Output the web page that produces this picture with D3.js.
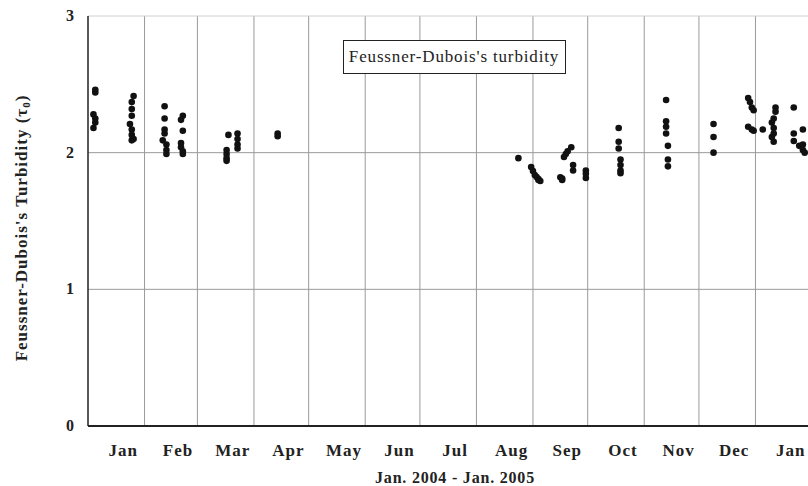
<!DOCTYPE html>
<html>
<head>
<meta charset="utf-8">
<script src="https://cdn.jsdelivr.net/npm/d3@7"></script>
<style>
  html, body { margin: 0; padding: 0; background: #fff; }
  svg { display: block; }
</style>
</head>
<body>
<svg id="chart" width="808" height="486"></svg>
<script>
// Observation dates (Jan 2004 - Jan 2005) and the turbidity measured on each
const obsDates = [
  "2004-01-04","2004-01-04","2004-01-05","2004-01-05","2004-01-05","2004-01-05",
  "2004-01-24","2004-01-25","2004-01-25","2004-01-25","2004-01-25","2004-01-25","2004-01-25","2004-01-26","2004-01-26",
  "2004-02-12","2004-02-12","2004-02-12","2004-02-12","2004-02-11","2004-02-13","2004-02-13","2004-02-13",
  "2004-02-22","2004-02-22","2004-02-22","2004-02-22","2004-02-21","2004-02-21","2004-02-21",
  "2004-03-18","2004-03-17","2004-03-17","2004-03-17","2004-03-17",
  "2004-03-23","2004-03-23","2004-03-23","2004-03-23",
  "2004-04-14","2004-04-14",
  "2004-08-24",
  "2004-08-31","2004-09-01","2004-09-02","2004-09-03","2004-09-04","2004-09-04","2004-09-05",
  "2004-09-16","2004-09-17","2004-09-17",
  "2004-09-18","2004-09-19","2004-09-20","2004-09-22","2004-09-23","2004-09-23",
  "2004-09-30","2004-09-30","2004-09-30",
  "2004-10-18","2004-10-18","2004-10-18","2004-10-19","2004-10-19","2004-10-19","2004-10-19",
  "2004-11-13","2004-11-13","2004-11-13","2004-11-13","2004-11-14","2004-11-14","2004-11-14",
  "2004-12-09","2004-12-09","2004-12-09",
  "2004-12-28","2004-12-28","2004-12-29","2004-12-30","2004-12-30","2004-12-31","2004-12-31",
  "2005-01-05",
  "2005-01-10","2005-01-10","2005-01-11","2005-01-11","2005-01-11","2005-01-11","2005-01-12","2005-01-12",
  "2005-01-22","2005-01-22","2005-01-22",
  "2005-01-25","2005-01-27","2005-01-27","2005-01-27","2005-01-28"
];
const tau = [
  2.28, 2.18, 2.46, 2.44, 2.25, 2.22,
  2.21, 2.37, 2.32, 2.27, 2.17, 2.13, 2.09, 2.415, 2.10,
  2.34, 2.25, 2.17, 2.14, 2.09, 2.06, 2.02, 1.99,
  2.27, 2.16, 2.01, 1.99, 2.24, 2.07, 2.04,
  2.13, 2.02, 1.99, 1.96, 1.94,
  2.14, 2.10, 2.06, 2.03,
  2.14, 2.12,
  1.96,
  1.895, 1.866, 1.837, 1.822, 1.807, 1.80, 1.793,
  1.82, 1.80, 1.81,
  1.968, 1.99, 2.01, 2.04, 1.91, 1.87,
  1.87, 1.845, 1.815,
  2.18, 2.08, 2.03, 1.95, 1.91, 1.87, 1.85,
  2.385, 2.23, 2.19, 2.14, 2.05, 1.95, 1.90,
  2.21, 2.115, 2.00,
  2.40, 2.19, 2.37, 2.17, 2.33, 2.31, 2.16,
  2.17,
  2.22, 2.115, 2.25, 2.18, 2.14, 2.08, 2.33, 2.30,
  2.33, 2.14, 2.085,
  2.05, 2.17, 2.06, 2.02, 2.00
];
const monthLabels = ["Jan","Feb","Mar","Apr","May","Jun","Jul","Aug","Sep","Oct","Nov","Dec","Jan"];
const yTicks = [0, 1, 2, 3];
const yTitle = "Feussner-Dubois's Turbidity (\u03C4";
const xTitle = "Jan. 2004 - Jan. 2005";
const legendText = "Feussner-Dubois's turbidity";

const parse = d3.timeParse("%Y-%m-%d");
const points = obsDates.map((d, i) => ({ date: parse(d), value: tau[i] }));

const svg = d3.select("#chart");
const serif = "'Liberation Serif', 'Times New Roman', serif";

const x = d3.scaleTime()
  .domain([new Date(2004, 0, 1), new Date(2005, 1, 1)])
  .range([88, 812]);
const y = d3.scaleLinear().domain([0, 3]).range([426, 16]);

const monthStarts = d3.timeMonth.range(new Date(2004, 0, 1), new Date(2005, 1, 1));

// vertical month grid
svg.append("g").selectAll("line")
  .data(monthStarts.slice(1))
  .join("line")
  .attr("x1", d => x(d)).attr("x2", d => x(d))
  .attr("y1", y(3)).attr("y2", y(0))
  .attr("stroke", "#9a9a9a").attr("stroke-width", 1);

// horizontal grid
svg.append("g").selectAll("line")
  .data(yTicks.slice(1))
  .join("line")
  .attr("x1", x.range()[0]).attr("x2", x.range()[1])
  .attr("y1", d => y(d)).attr("y2", d => y(d))
  .attr("stroke", d => d === 3 ? "#d0d0d0" : "#9a9a9a").attr("stroke-width", 1);

// axis lines
svg.append("line")
  .attr("x1", x.range()[0]).attr("x2", x.range()[0])
  .attr("y1", y(3)).attr("y2", y(0))
  .attr("stroke", "#222").attr("stroke-width", 1.5);
svg.append("line")
  .attr("x1", x.range()[0]).attr("x2", x.range()[1])
  .attr("y1", y(0)).attr("y2", y(0))
  .attr("stroke", "#222").attr("stroke-width", 2);

// y tick labels
svg.append("g").selectAll("text")
  .data(yTicks)
  .join("text")
  .attr("x", 74).attr("y", d => y(d) + 5)
  .attr("text-anchor", "end")
  .attr("font-family", serif).attr("font-weight", "bold").attr("font-size", 16)
  .attr("fill", "#222")
  .text(d => d);

// month labels
svg.append("g").selectAll("text")
  .data(monthStarts)
  .join("text")
  .attr("x", d => (x(d) + x(d3.timeMonth.offset(d, 1))) / 2 + 7)
  .attr("y", 456)
  .attr("text-anchor", "middle")
  .attr("font-family", serif).attr("font-weight", "bold").attr("font-size", 17)
  .attr("letter-spacing", 1)
  .attr("fill", "#222")
  .text((d, i) => monthLabels[i]);

// x title
svg.append("text")
  .attr("x", 455).attr("y", 483)
  .attr("text-anchor", "middle")
  .attr("font-family", serif).attr("font-weight", "bold").attr("font-size", 16)
  .attr("letter-spacing", 0.8)
  .attr("fill", "#222")
  .text(xTitle);

// y title
const yt = svg.append("text")
  .attr("transform", "translate(27,228) rotate(-90)")
  .attr("text-anchor", "middle")
  .attr("font-family", serif).attr("font-weight", "bold").attr("font-size", 17)
  .attr("letter-spacing", 1)
  .attr("fill", "#222");
yt.append("tspan").text(yTitle);
yt.append("tspan").attr("font-size", 11).attr("dy", 3).text("0");
yt.append("tspan").attr("dy", -3).text(")");

// legend box
svg.append("rect")
  .attr("x", 343.5).attr("y", 40.5).attr("width", 222).attr("height", 33)
  .attr("fill", "#fff").attr("stroke", "#222").attr("stroke-width", 1);
svg.append("text")
  .attr("x", 454).attr("y", 62)
  .attr("text-anchor", "middle")
  .attr("font-family", serif).attr("font-size", 17)
  .attr("letter-spacing", 0.85)
  .attr("fill", "#222")
  .text(legendText);

// observations
svg.append("g").selectAll("circle")
  .data(points)
  .join("circle")
  .attr("cx", d => x(d.date)).attr("cy", d => y(d.value))
  .attr("r", 3.3)
  .attr("fill", "#111");
</script>
</body>
</html>
